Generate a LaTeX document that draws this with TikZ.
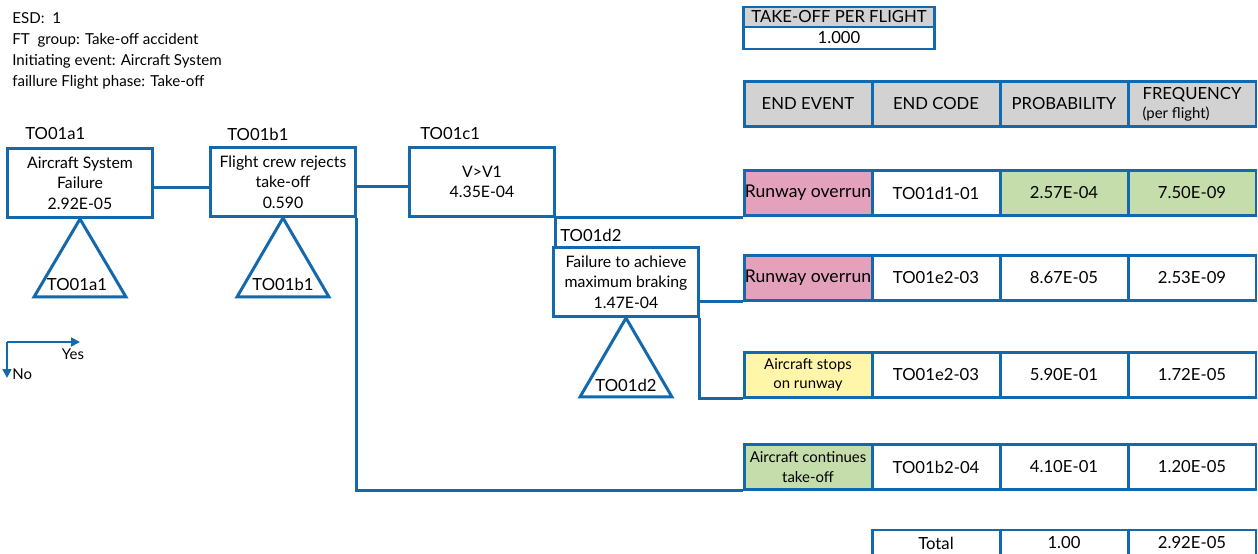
\documentclass[tikz,border=0pt]{standalone}
\usepackage{fontspec}
\setmainfont{Lato}
\usetikzlibrary{arrows.meta}
\definecolor{esdblue}{RGB}{20,104,172}
\definecolor{endpink}{RGB}{228,161,187}
\definecolor{endgreen}{RGB}{196,221,170}
\definecolor{endyellow}{RGB}{255,246,170}
\definecolor{headgray}{RGB}{210,210,210}
\tikzset{
  evbox/.style={draw=esdblue, line width=1.7pt, minimum width=2.9cm, minimum height=1.38cm, inner sep=0pt, align=center, font=\fontsize{9}{11.6}\selectfont},
  evlabel/.style={anchor=west, inner sep=0pt, font=\fontsize{9.5}{11}\selectfont},
  trilabel/.style={inner sep=0pt, font=\fontsize{9.5}{11}\selectfont},
  branch/.style={draw=esdblue, line width=1.7pt},
  cell/.style={draw=esdblue, line width=1.7pt, minimum width=2.56cm, minimum height=0.9cm, inner sep=0pt, align=center, font=\fontsize{9.5}{11}\selectfont},
  headcell/.style={cell, fill=headgray},
}

\begin{document}
\begin{tikzpicture}[x=0.02cm, y=-0.02cm]
		%%%%% START %%%%%
		\useasboundingbox (0,0) rectangle (1258,554);
		
		\node[anchor=north west, align=left, inner sep=0pt, font=\fontsize{8.6}{11.9}\selectfont] (info) at (12,12) {ESD:\ \ 1\\FT\ \ group: Take-off accident\\Initiating event: Aircraft System\\faillure Flight phase: Take-off};
		
		% events
		\node[evbox] (a1) at (80,183) {Aircraft System\\Failure\\2.92E-05};
		\node[evbox] (b1) at (283,182) {Flight crew rejects\\take-off\\0.590};
		\node[evbox] (c1) at (482,182) {V>V1\\4.35E-04};
		\node[evbox] (d2) at (626,282) {Failure to achieve\\maximum braking\\1.47E-04};
		
		\node[evlabel] (la1) at (25,134) {TO01a1};
		\node[evlabel] (lb1) at (227,134) {TO01b1};
		\node[evlabel] (lc1) at (420,134) {TO01c1};
		\node[evlabel] (ld2) at (560,235) {TO01d2};
		
		% fault trees
		\draw[branch, line join=miter] (a1.south) -- ++(-46,78) -- ++(92,0) -- cycle;
		\draw[branch, line join=miter] (b1.south) -- ++(-46,79) -- ++(92,0) -- cycle;
		\draw[branch, line join=miter] (d2.south) -- ++(-46,79) -- ++(92,0) -- cycle;
		\path (a1.south) ++(-3,66) node[trilabel] (ta1) {TO01a1};
		\path (b1.south) ++(0,66) node[trilabel] (tb1) {TO01b1};
		\path (d2.south) ++(0,67) node[trilabel] (td2) {TO01d2};
		
		% table
		\node[headcell, minimum width=3.84cm, minimum height=0.4cm] (tpfh) at (839,17) {TAKE-OFF PER FLIGHT};
		\node[cell, minimum width=3.84cm, minimum height=0.44cm] (tpfv) at (839,38) {1.000};
		
		\node[headcell] (hev) at (808,104) {END EVENT};
		\node[headcell] (hcode) at (936,104) {END CODE};
		\node[headcell] (hprob) at (1064,104) {PROBABILITY};
		\node[headcell, align=left] (hfreq) at (1192,104) {FREQUENCY\\{\fontsize{8.5}{9.5}\selectfont(per flight)}};
		
		\node[cell, fill=endpink, font=\fontsize{10}{11}\selectfont] (r1ev) at (808,193) {Runway overrun};
		\node[cell] (r1code) at (936,193) {TO01d1-01};
		\node[cell, fill=endgreen] (r1prob) at (1064,193) {2.57E-04};
		\node[cell, fill=endgreen] (r1freq) at (1192,193) {7.50E-09};
		
		\node[cell, fill=endpink, font=\fontsize{10}{11}\selectfont] (r2ev) at (808,278) {Runway overrun};
		\node[cell] (r2code) at (936,278) {TO01e2-03};
		\node[cell] (r2prob) at (1064,278) {8.67E-05};
		\node[cell] (r2freq) at (1192,278) {2.53E-09};
		
		\node[cell, fill=endyellow, font=\fontsize{8.5}{11}\selectfont] (r3ev) at (808,375) {Aircraft stops\\on runway};
		\node[cell] (r3code) at (936,375) {TO01e2-03};
		\node[cell] (r3prob) at (1064,375) {5.90E-01};
		\node[cell] (r3freq) at (1192,375) {1.72E-05};
		
		\node[cell, fill=endgreen, font=\fontsize{8.5}{11}\selectfont] (r4ev) at (808,467) {Aircraft continues\\take-off};
		\node[cell] (r4code) at (936,467) {TO01b2-04};
		\node[cell] (r4prob) at (1064,467) {4.10E-01};
		\node[cell] (r4freq) at (1192,467) {1.20E-05};
		
		\node[cell, minimum height=0.52cm] (tlabel) at (936,543) {Total};
		\node[cell, minimum height=0.52cm] (tprob) at (1064,543) {1.00};
		\node[cell, minimum height=0.52cm] (tfreq) at (1192,543) {2.92E-05};
		
		% branches
		\draw[branch] ([yshift=-2.3pt]a1.east) -- ([yshift=-2.3pt]a1.east -| b1.west);
		\draw[branch] ([yshift=-2.3pt]b1.east) -- ([yshift=-2.3pt]b1.east -| c1.west);
		\draw[branch] (c1.south east) -- (c1.south east -| r1ev.west);
		\draw[branch] (c1.south east) -- (c1.south east |- d2.north);
		\draw[branch] (d2.east |- r2ev.south) -- (r2ev.south west);
		\draw[branch] (d2.south east) |- (r3ev.south west);
		\draw[branch] (b1.south east) |- (r4ev.south west);
		
		% legend
		\coordinate (lg) at (7,342);
		\coordinate (lgyes) at (80,342);
		\coordinate (lgno) at (7,378);
		\draw[branch, line width=1pt, -{Triangle[length=5pt,width=5pt]}] (lg) -- (lgyes);
		\draw[branch, line width=1pt, -{Triangle[length=5pt,width=5pt]}] (lg) -- (lgno);
		\node[inner sep=0pt, font=\fontsize{8.5}{10}\selectfont] (yes) at (73,354) {Yes};
		\node[anchor=west, inner sep=0pt, font=\fontsize{8.5}{10}\selectfont] (no) at (12,374) {No};
		
		%%%%% END %%%%%
	\end{tikzpicture}
\end{document}
